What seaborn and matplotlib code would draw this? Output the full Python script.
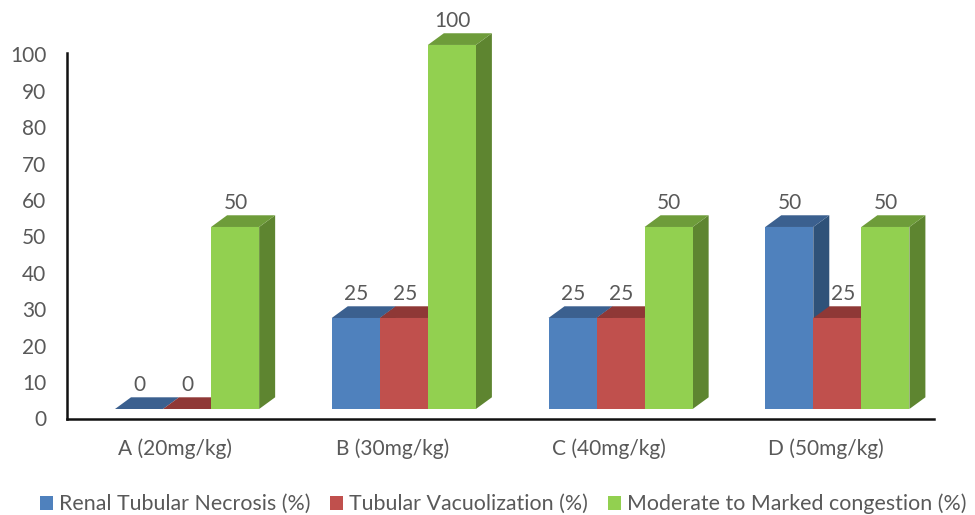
import pandas as pd
import seaborn as sns
import matplotlib
matplotlib.use('Agg')
import matplotlib.pyplot as plt
from matplotlib.patches import Polygon
from matplotlib.transforms import Affine2D

doses = ['A (20mg/kg)', 'B (30mg/kg)', 'C (40mg/kg)', 'D (50mg/kg)']
necrosis = [0, 25, 25, 50]
vacuolization = [0, 25, 25, 25]
congestion = [50, 100, 50, 50]

names = ['Renal Tubular Necrosis (%)', 'Tubular Vacuolization (%)', 'Moderate to Marked congestion (%)']
front_colors = ['#4F81BD', '#C0504D', '#92D050']
top_colors = ['#3B608F', '#8F3836', '#6E9C3A']
side_colors = ['#2F5279', '#7A2F2E', '#5E8530']

df = pd.DataFrame({
    'dose': doses * 3,
    'value': necrosis + vacuolization + congestion,
    'series': [n for n in names for _ in doses],
})

sns.set_theme(style='white')
plt.rcParams['font.family'] = ['Lato', 'DejaVu Sans']

W, H = 975, 515
fig = plt.figure(figsize=(W / 100, H / 100), dpi=100)
ax = fig.add_axes([67 / W, 1 - 418.5 / H, (934 - 67) / W, (418.5 - 53) / H])

sns.barplot(data=df, x='dose', y='value', hue='series', order=doses, hue_order=names,
            palette=front_colors, saturation=1, width=0.665, gap=0, linewidth=0, ax=ax)

ax.set_xlim(-0.5, 3.5)
ax.set_ylim(0, 100.4)
ax.set_yticks(range(0, 101, 10))
ax.set_xlabel('')
ax.set_ylabel('')

# fake 3D: the front face is lifted off the axis, side and top faces come from the bar itself
lift = Affine2D().translate(11.7, 9.5)
depth_x = 16 / 216.75
depth_y = 11.7 / 3.64
z = 3
for container, top_c, side_c in zip(ax.containers, top_colors, side_colors):
    for bar, val in zip(container, container.datavalues):
        x0 = bar.get_x()
        x1 = x0 + bar.get_width()
        side = Polygon([(x1, 0), (x1 + depth_x, depth_y), (x1 + depth_x, val + depth_y), (x1, val)],
                       facecolor=side_c, edgecolor='none', clip_on=False, zorder=z,
                       transform=ax.transData + lift)
        top = Polygon([(x0, val), (x0 + depth_x, val + depth_y), (x1 + depth_x, val + depth_y), (x1, val)],
                      facecolor=top_c, edgecolor='none', clip_on=False, zorder=z + 0.1,
                      transform=ax.transData + lift)
        ax.add_patch(side)
        ax.add_patch(top)
        bar.set_transform(ax.transData + lift)
        bar.set_clip_on(False)
        bar.set_zorder(z + 0.2)
        z += 1

# value labels, the D red one sits a little to the right in the original
for s, container in enumerate(ax.containers):
    for c, (bar, val) in enumerate(zip(container, container.datavalues)):
        nudge = 5.5 if (s == 1 and c == 3) else 0
        ax.annotate(f'{val:.0f}', (bar.get_x() + bar.get_width() / 2, val),
                    xytext=(12.5 + nudge, 33.5), textcoords='offset pixels',
                    ha='center', va='center', fontsize=15, color='#595959',
                    annotation_clip=False, zorder=100)

sns.despine(ax=ax)
for name in ['left', 'bottom']:
    ax.spines[name].set_color('#111111')
    ax.spines[name].set_linewidth(1.8)
ax.tick_params(axis='y', length=0, pad=15, labelsize=15, labelcolor='#595959')
ax.tick_params(axis='x', length=0, pad=14, labelsize=15, labelcolor='#595959')

handles, labels = ax.get_legend_handles_labels()
ax.get_legend().remove()
fig.legend(handles, labels, loc='center left', bbox_to_anchor=(40 / W, 1 - 504 / H), ncols=3,
           frameon=False, fontsize=15.4, labelcolor='#595959', handlelength=0.61, handleheight=0.61,
           handletextpad=0.28, columnspacing=0.93, borderpad=0, borderaxespad=0)

fig.savefig('out.png', dpi=100)
